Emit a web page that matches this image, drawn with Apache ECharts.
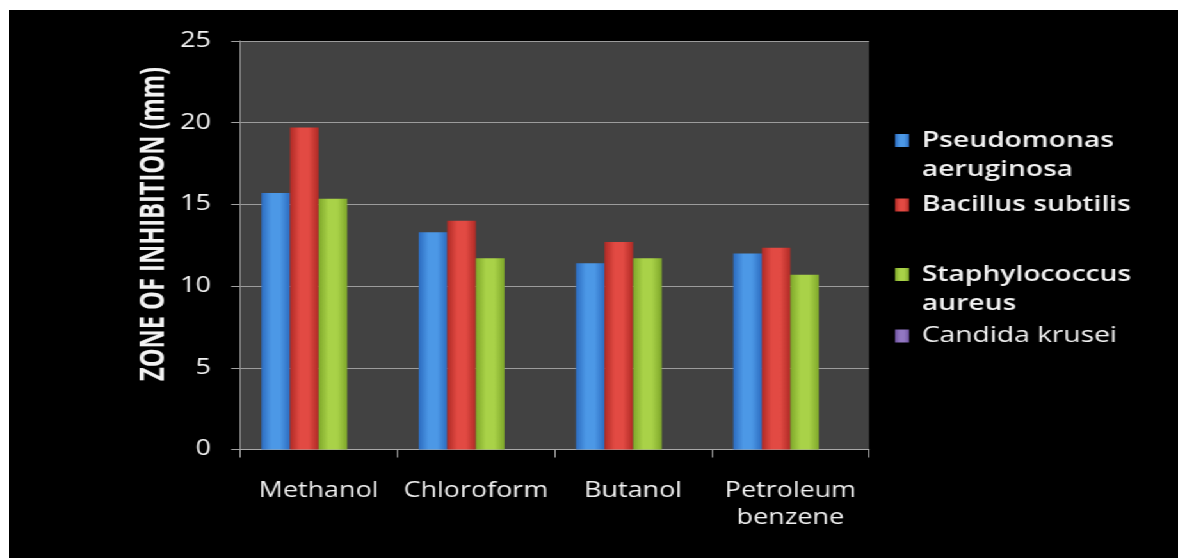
<!DOCTYPE html>
<html>
<head>
<meta charset="utf-8">
<title>Zone of inhibition</title>
<script src="https://cdn.jsdelivr.net/npm/echarts@6/dist/echarts.min.js"></script>
<style>
  html, body { margin: 0; padding: 0; background: #fff; overflow: hidden; }
  /* the original picture is a stretched slide, so the chart is drawn narrow and stretched the same way */
  #chart { position: absolute; left: 9px; top: 10px; width: 913px; height: 548px; background: #000;
           transform: scaleX(1.2804); transform-origin: 0 0; }
</style>
</head>
<body>
<div id="chart"></div>
<script>
  var solvents = ['Methanol', 'Chloroform', 'Butanol', 'Petroleum\nbenzene'];
  var pseudomonas = [15.7, 13.3, 11.4, 12.0];
  var bacillus = [19.7, 14.0, 12.7, 12.35];
  var staphylococcus = [15.35, 11.7, 11.7, 10.7];
  var candida = [null, null, null, null];
  var yTicks = [0, 5, 10, 15, 20, 25];

  var txt = '#f2f2f2';

  // cylinder-ish shading like the office 3d bars
  function shade(edge, mid) {
    return new echarts.graphic.LinearGradient(0, 0, 1, 0, [
      { offset: 0, color: edge },
      { offset: 0.35, color: mid },
      { offset: 0.65, color: mid },
      { offset: 1, color: edge }
    ]);
  }

  function bar(name, data, edge, mid) {
    return {
      name: name,
      type: 'bar',
      data: data,
      barGap: '0%',
      barCategoryGap: '27.3%',
      itemStyle: { color: shade(edge, mid) }
    };
  }

  // one legend per entry so the uneven spacing of the original can be kept
  function legendAt(name, top, weight) {
    return {
      data: [name],
      left: 692,
      top: top,
      padding: 0,
      icon: 'rect',
      itemWidth: 11,
      itemHeight: 13,
      formatter: function (n) {
        // empty first line keeps the marker on the first line of a wrapped name
        if (n === 'Pseudomonas aeruginosa') return '\nPseudomonas\naeruginosa';
        if (n === 'Staphylococcus aureus') return '\nStaphylococcus\naureus';
        return n;
      },
      textStyle: {
        color: txt,
        fontFamily: 'Open Sans',
        fontSize: 22,
        fontWeight: weight,
        lineHeight: 29,
        padding: [0, 0, 0, 5]
      }
    };
  }

  var myChart = echarts.init(document.getElementById('chart'));

  var option = {
    backgroundColor: '#000',
    animation: false,
    grid: {
      left: 180.4,
      right: 241.3,
      top: 31,
      bottom: 108.5,
      show: true,
      backgroundColor: '#424242',
      borderWidth: 0
    },
    legend: [
      legendAt('Pseudomonas aeruginosa', 87, 600),
      legendAt('Bacillus subtilis', 180.5, 600),
      legendAt('Staphylococcus aureus', 221, 600),
      legendAt('Candida krusei', 311.5, 'normal')
    ],
    xAxis: {
      type: 'category',
      data: solvents,
      axisLine: { lineStyle: { color: '#a8a8a8', width: 1 } },
      axisTick: { show: true, interval: 0, length: 8, lineStyle: { color: '#a8a8a8' } },
      axisLabel: {
        interval: 0,
        hideOverlap: false,
        color: txt,
        fontFamily: 'Open Sans',
        fontSize: 21,
        lineHeight: 27,
        margin: 28
      }
    },
    yAxis: {
      type: 'value',
      min: yTicks[0],
      max: yTicks[yTicks.length - 1],
      interval: 5,
      axisLine: { show: true, lineStyle: { color: '#8c8c8c' } },
      axisTick: { show: true, length: 7, lineStyle: { color: '#a0a0a0' } },
      splitLine: { lineStyle: { color: '#9c9c9c', width: 1 } },
      axisLabel: {
        color: txt,
        fontFamily: 'Open Sans',
        fontSize: 21,
        margin: 22.6
      }
    },
    graphic: [{
      type: 'text',
      x: 114,
      y: 214,
      rotation: Math.PI / 2,
      scaleX: 0.91,
      style: {
        text: 'ZONE OF INHIBITION (mm)',
        font: 'bold 26px "Open Sans"',
        fill: txt,
        align: 'center',
        verticalAlign: 'middle'
      }
    }],
    series: [
      bar('Pseudomonas aeruginosa', pseudomonas, '#2c6cc0', '#4c98e6'),
      bar('Bacillus subtilis', bacillus, '#b02a25', '#e24a43'),
      bar('Staphylococcus aureus', staphylococcus, '#7fa82a', '#a9d248'),
      bar('Candida krusei', candida, '#6f53a0', '#9277c2')
    ]
  };

  myChart.setOption(option);
</script>
</body>
</html>
